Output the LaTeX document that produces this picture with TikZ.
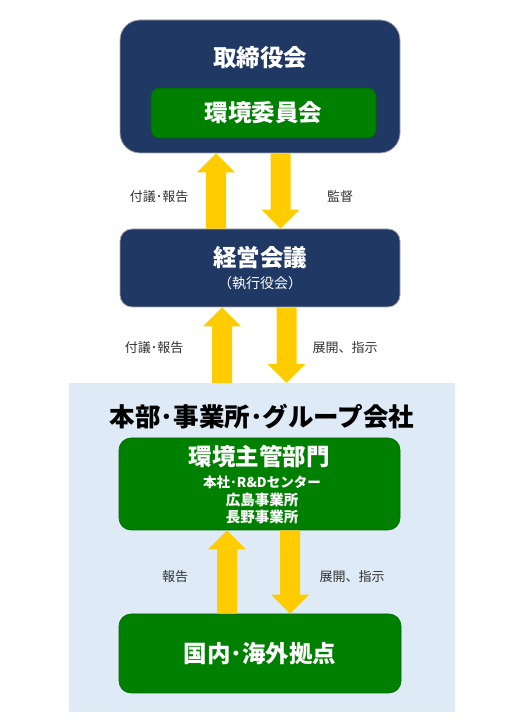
\documentclass[tikz,border=0pt]{standalone}
\usepackage{fontspec}
\setmainfont{Noto Sans CJK JP}
\usetikzlibrary{calc}
\definecolor{navy}{HTML}{203864}
\definecolor{dgreen}{HTML}{008000}
\definecolor{ayellow}{HTML}{FFCC00}
\definecolor{lblue}{HTML}{DEEAF6}
\definecolor{lbl}{HTML}{333333}
\tikzset{
  navybox/.style={rectangle, fill=navy, draw=gray!70, line width=0.8pt, inner sep=0pt},
  greenbox/.style={rectangle, fill=dgreen, draw=dgreen!80!black, line width=0.6pt, inner sep=0pt},
  wtitle/.style={text=white, font=\bfseries\fontsize{23.5}{25}\selectfont, inner sep=0pt},
  wsub/.style={text=white, font=\bfseries\fontsize{14.5}{16}\selectfont, inner sep=0pt},
  lab/.style={text=lbl, font=\fontsize{13}{15}\selectfont, inner sep=0pt},
  yfill/.style={fill=ayellow, draw=none}
}
% up block arrow: #1 = x, #2 = lower node, #3 = upper node
\newcommand\blkup[3]{%
  \fill[yfill] let \p1=(#2.north), \p2=(#3.south) in
    ({(#1-10)*1pt},\y1) -- ({(#1+10)*1pt},\y1) -- ({(#1+10)*1pt},{\y2-19pt}) --
    ({(#1+19)*1pt},{\y2-19pt}) -- ({#1*1pt},\y2) -- ({(#1-19)*1pt},{\y2-19pt}) --
    ({(#1-10)*1pt},{\y2-19pt}) -- cycle;}
% down block arrow: #1 = x, #2 = upper node, #3 = lower node
\newcommand\blkdown[3]{%
  \fill[yfill] let \p1=(#2.south), \p2=(#3.north) in
    ({(#1-10)*1pt},\y1) -- ({(#1+10)*1pt},\y1) -- ({(#1+10)*1pt},{\y2+19pt}) --
    ({(#1+19)*1pt},{\y2+19pt}) -- ({#1*1pt},\y2) -- ({(#1-19)*1pt},{\y2+19pt}) --
    ({(#1-10)*1pt},{\y2+19pt}) -- cycle;}
\begin{document}
\begin{tikzpicture}[x=1pt,y=1pt]
\useasboundingbox (0,0) rectangle (525,725);
% light blue background
\fill[lblue] (69,13) rectangle (455,342);

% top box
\node[navybox, rounded corners=20pt, minimum width=280pt, minimum height=133pt] (board) at (260,638.5) {};
\node[wtitle] (boardt) at (260,667) {取締役会};
\node[greenbox, rounded corners=8pt, minimum width=225pt, minimum height=50pt, wtitle] (env) at (263.5,612) {環境委員会};

% management meeting
\node[navybox, rounded corners=12pt, minimum width=280pt, minimum height=78pt] (mgmt) at (260,457) {};
\node[wtitle] (mgmtt) at (260,467) {経営会議};
\node[text=white, font=\fontsize{14}{16}\selectfont, inner sep=0pt] (mgmts) at (260,442) {（執行役会）};

% heading in blue area
\node[font=\bfseries\fontsize{25.5}{27}\selectfont, inner sep=0pt] (head) at (262,308) {本部･事業所･グループ会社};

% env dept box
\node[greenbox, rounded corners=12pt, minimum width=281pt, minimum height=92pt] (dept) at (259.5,241) {};
\node[wtitle] (deptt) at (259,268) {環境主管部門};
\node[wsub, font=\bfseries\fontsize{13.5}{15}\selectfont] (d1) at (262,243) {本社･R\&Dセンター};
\node[wsub] (d2) at (262,225) {広島事業所};
\node[wsub] (d3) at (262,208) {長野事業所};

% bottom box
\node[greenbox, rounded corners=12pt, minimum width=282pt, minimum height=79pt, wtitle] (base) at (260,71.5) {国内･海外拠点};

% arrows
\blkup{216}{mgmt}{board}
\blkdown{280.5}{board}{mgmt}
\node[inner sep=0pt, minimum width=1pt, minimum height=0pt] (bt) at (262,342) {};
\blkup{222}{bt}{mgmt}
\blkdown{286.5}{mgmt}{bt}
\blkup{227}{base}{dept}
\blkdown{290}{dept}{base}

% labels
\node[lab] (l1) at (159,528) {付議･報告};
\node[lab] (l2) at (340,528) {監督};
\node[lab] (l3) at (154,377) {付議･報告};
\node[lab] (l4) at (345,377) {展開、指示};
\node[lab] (l5) at (175,148) {報告};
\node[lab] (l6) at (352,148) {展開、指示};
\end{tikzpicture}
\end{document}
